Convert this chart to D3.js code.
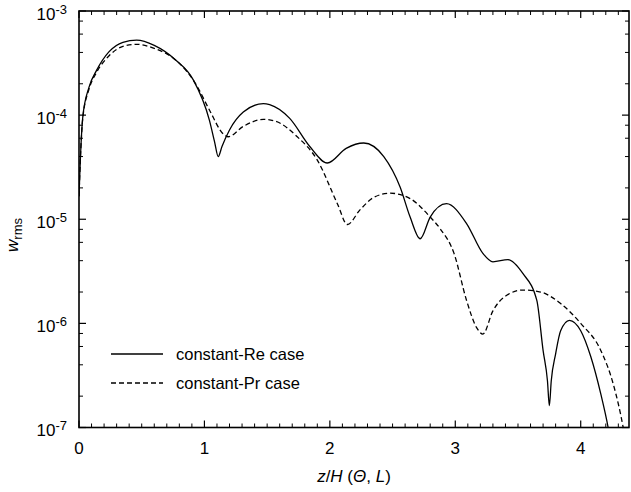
<!DOCTYPE html>
<html>
<head>
<meta charset="utf-8">
<script src="https://cdn.jsdelivr.net/npm/d3@7"></script>
<style>
  body { margin: 0; background: #fff; }
  svg { display: block; font-family: "Liberation Sans", Arial, sans-serif; }
</style>
</head>
<body>
<div id="chart"></div>
<script>
// z / H(Theta, L) positions and w_rms values
const reZ = [0, 0.01, 0.03, 0.08, 0.14, 0.24, 0.35, 0.46, 0.60, 0.77, 0.91, 1.04, 1.08, 1.11, 1.14, 1.20,
  1.31, 1.47, 1.52, 1.68, 1.84, 1.98, 2.13, 2.27, 2.43, 2.56, 2.64, 2.72, 2.80, 2.93, 3.09, 3.22,
  3.30, 3.42, 3.54, 3.65, 3.70, 3.735, 3.75, 3.765, 3.80, 3.84, 3.91, 4.00, 4.08, 4.16, 4.22, 4.26];
const reW = [1.66e-5, 3.55e-5, 9.55e-5, 1.86e-4, 2.69e-4, 4.07e-4, 5.01e-4, 5.25e-4, 4.68e-4, 3.39e-4,
  2.19e-4, 8.9e-5, 5.6e-5, 4.0e-5, 5.0e-5, 7.2e-5, 1.07e-4, 1.29e-4, 1.26e-4, 9.3e-5, 5.0e-5, 3.47e-5,
  4.8e-5, 5.4e-5, 4.0e-5, 2.04e-5, 1.05e-5, 6.5e-6, 1.05e-5, 1.41e-5, 9.1e-6, 4.7e-6, 3.9e-6, 4.1e-6,
  3.0e-6, 1.66e-6, 5.5e-7, 2.8e-7, 1.62e-7, 2.8e-7, 5.1e-7, 8.5e-7, 1.07e-6, 8.5e-7, 4.8e-7, 2.1e-7,
  9.8e-8, 5e-8];

const prZ = [0, 0.01, 0.03, 0.08, 0.14, 0.24, 0.35, 0.46, 0.60, 0.77, 0.93, 1.04, 1.15, 1.19, 1.31, 1.47,
  1.57, 1.74, 1.90, 2.06, 2.14, 2.24, 2.35, 2.48, 2.64, 2.80, 2.88, 2.99, 3.09, 3.17, 3.22, 3.30,
  3.41, 3.54, 3.68, 3.84, 4.00, 4.16, 4.26, 4.34, 4.38];
const prW = [1.66e-5, 3.55e-5, 9.3e-5, 1.78e-4, 2.57e-4, 3.72e-4, 4.57e-4, 4.79e-4, 4.37e-4, 3.39e-4,
  2.0e-4, 1.12e-4, 6.6e-5, 6.2e-5, 7.8e-5, 9.1e-5, 8.7e-5, 6.2e-5, 3.7e-5, 1.41e-5, 8.9e-6, 1.23e-5,
  1.62e-5, 1.78e-5, 1.58e-5, 1.05e-5, 8.1e-6, 4.7e-6, 1.66e-6, 9.1e-7, 7.9e-7, 1.32e-6, 1.86e-6,
  2.09e-6, 2.0e-6, 1.55e-6, 1.0e-6, 5.5e-7, 2.6e-7, 9.8e-8, 5e-8];

const xTicks = [0, 1, 2, 3, 4];
const yDecades = [-7, -6, -5, -4, -3];
const seriesNames = ['constant-Re case', 'constant-Pr case'];

const width = 631, height = 492;
const margin = { top: 11, right: 2, bottom: 64.5, left: 79 };
const innerW = width - margin.left - margin.right;
const innerH = height - margin.top - margin.bottom;

const x = d3.scaleLinear().domain([0, 4.385]).range([0, innerW]);
const y = d3.scaleLog().domain([1e-7, 1e-3]).range([innerH, 0]);

const svg = d3.select('#chart')
  .append('svg')
  .attr('width', width)
  .attr('height', height)
  .append('g')
  .attr('transform', `translate(${margin.left},${margin.top})`);

svg.append('clipPath')
  .attr('id', 'clip')
  .append('rect')
  .attr('width', innerW)
  .attr('height', innerH);

// tick positions
const xMinor = d3.range(0, 44).map((i) => i / 10).filter((v) => v <= 4.385 && Math.abs(v - Math.round(v)) > 1e-6);
const yMinor = [];
yDecades.slice(0, -1).forEach((k) => [2, 4, 6, 8].forEach((m) => yMinor.push(m * Math.pow(10, k))));

const tickColor = '#000';

// bottom + top ticks
[[innerH, -1], [0, 1]].forEach(([y0, dir]) => {
  svg.append('g').selectAll('line')
    .data(xMinor).enter().append('line')
    .attr('x1', (d) => x(d)).attr('x2', (d) => x(d))
    .attr('y1', y0).attr('y2', y0 + dir * 4)
    .attr('stroke', tickColor).attr('stroke-width', 1);
  svg.append('g').selectAll('line')
    .data(xTicks).enter().append('line')
    .attr('x1', (d) => x(d)).attr('x2', (d) => x(d))
    .attr('y1', y0).attr('y2', y0 + dir * 7)
    .attr('stroke', tickColor).attr('stroke-width', 1.2);
});

// left + right ticks
[[0, 1], [innerW, -1]].forEach(([x0, dir]) => {
  svg.append('g').selectAll('line')
    .data(yMinor).enter().append('line')
    .attr('y1', (d) => y(d)).attr('y2', (d) => y(d))
    .attr('x1', x0).attr('x2', x0 + dir * 4)
    .attr('stroke', tickColor).attr('stroke-width', 1);
  svg.append('g').selectAll('line')
    .data(yDecades).enter().append('line')
    .attr('y1', (d) => y(Math.pow(10, d))).attr('y2', (d) => y(Math.pow(10, d)))
    .attr('x1', x0).attr('x2', x0 + dir * 7)
    .attr('stroke', tickColor).attr('stroke-width', 1.2);
});

// frame
svg.append('rect')
  .attr('width', innerW)
  .attr('height', innerH)
  .attr('fill', 'none')
  .attr('stroke', '#000')
  .attr('stroke-width', 1.6);

// x tick labels
svg.append('g').selectAll('text')
  .data(xTicks).enter().append('text')
  .attr('x', (d) => x(d))
  .attr('y', innerH + 26)
  .attr('text-anchor', 'middle')
  .attr('font-size', 17)
  .text((d) => d);

// y tick labels 10^k
const yLab = svg.append('g').selectAll('text')
  .data(yDecades).enter().append('text')
  .attr('x', -12)
  .attr('y', (d) => y(Math.pow(10, d)) + 8.5)
  .attr('text-anchor', 'end')
  .attr('font-size', 17);
yLab.append('tspan').text('10');
yLab.append('tspan').attr('dy', -6).attr('font-size', 13).text((d) => d);

// curves
const line = d3.line()
  .x((d) => x(d[0]))
  .y((d) => y(d[1]))
  .curve(d3.curveMonotoneX);

const reData = reZ.map((z, i) => [z, reW[i]]);
const prData = prZ.map((z, i) => [z, prW[i]]);

const plot = svg.append('g').attr('clip-path', 'url(#clip)');
plot.append('path')
  .datum(reData)
  .attr('d', line)
  .attr('fill', 'none')
  .attr('stroke', '#000')
  .attr('stroke-width', 1.3);
plot.append('path')
  .datum(prData)
  .attr('d', line)
  .attr('fill', 'none')
  .attr('stroke', '#000')
  .attr('stroke-width', 1.3)
  .attr('stroke-dasharray', '5,3');

// legend
const legend = svg.append('g').attr('transform', `translate(${111 - margin.left},${354 - margin.top})`);
seriesNames.forEach((name, i) => {
  legend.append('line')
    .attr('x1', 0).attr('x2', 52)
    .attr('y1', i * 29).attr('y2', i * 29)
    .attr('stroke', '#000')
    .attr('stroke-width', 1.3)
    .attr('stroke-dasharray', i === 1 ? '5,3' : null);
  legend.append('text')
    .attr('x', 65)
    .attr('y', i * 29 + 6)
    .attr('font-size', 16.5)
    .text(name);
});

// x axis title
const xt = svg.append('text')
  .attr('x', innerW / 2)
  .attr('y', innerH + 54)
  .attr('text-anchor', 'middle')
  .attr('font-size', 17);
xt.append('tspan').attr('font-style', 'italic').text('z');
xt.append('tspan').text('/');
xt.append('tspan').attr('font-style', 'italic').text('H');
xt.append('tspan').text(' (');
xt.append('tspan').attr('font-style', 'italic').text('Θ');
xt.append('tspan').text(', ');
xt.append('tspan').attr('font-style', 'italic').text('L');
xt.append('tspan').text(')');

// y axis title
const yt = svg.append('text')
  .attr('transform', `translate(${18 - margin.left},${235 - margin.top}) rotate(-90)`)
  .attr('text-anchor', 'middle')
  .attr('font-size', 17);
yt.append('tspan').attr('font-style', 'italic').text('w');
yt.append('tspan').attr('font-size', 13).attr('dy', 4).text('rms');
</script>
</body>
</html>
